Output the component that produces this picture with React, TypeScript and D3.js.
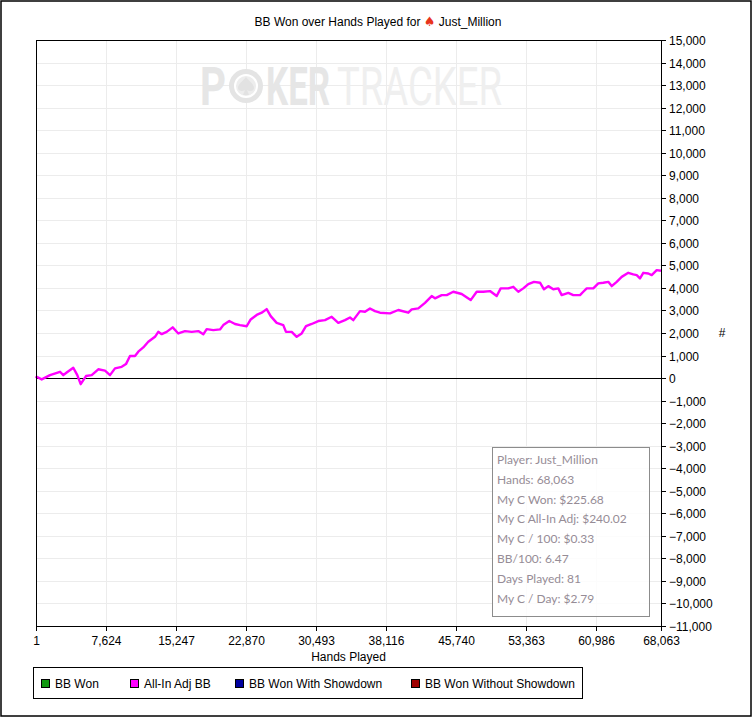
import React, { useEffect } from 'react';
import * as d3 from 'd3';

// hands played (x) and all-in adjusted BB won (y)
const handsPlayed = [1, 76, 620, 1525, 2614, 2973, 3343, 4062, 4498, 4868, 5445, 6066, 6784, 7514, 8059, 8603, 9333, 9801, 10237, 10781, 11140, 11685, 12229, 12959, 13318, 13689, 14233, 14887, 15496, 16226, 16956, 17674, 18219, 18589, 19308, 20038, 20397, 21050, 21671, 22216, 22945, 23381, 24034, 24579, 25123, 25559, 26212, 26931, 27225, 27846, 28390, 28935, 29403, 30024, 30742, 31472, 32202, 32920, 33650, 34195, 34554, 35284, 35828, 36373, 36917, 37462, 38551, 39454, 40543, 40914, 41632, 42362, 43092, 43451, 44181, 44725, 45444, 46359, 46969, 47339, 47993, 48712, 49441, 50171, 50606, 51434, 51978, 52523, 53067, 53612, 54232, 54886, 55321, 55790, 56334, 56879, 57249, 57968, 58512, 59242, 59601, 59971, 60690, 61234, 61779, 62323, 62694, 63238, 63783, 64501, 65046, 65416, 65776, 66135, 66680, 67050, 67594, 68063];
const allInAdjBB = [0, 60, -60, 130, 280, 130, 250, 460, 130, -270, 90, 130, 390, 330, 130, 430, 500, 620, 980, 980, 1170, 1360, 1610, 1830, 2050, 1950, 2050, 2250, 1980, 2085, 2050, 2085, 1940, 2170, 2130, 2160, 2350, 2530, 2400, 2350, 2300, 2600, 2800, 2900, 3060, 2750, 2450, 2350, 2050, 2050, 1830, 1980, 2300, 2400, 2530, 2570, 2720, 2450, 2570, 2690, 2570, 2970, 2940, 3090, 2970, 2900, 2870, 3020, 2900, 3050, 3090, 3340, 3640, 3540, 3680, 3680, 3830, 3730, 3560, 3460, 3830, 3830, 3860, 3640, 3980, 3980, 4050, 3830, 3980, 4170, 4270, 4230, 3940, 4080, 3940, 3980, 3680, 3780, 3680, 3680, 3830, 3980, 3980, 4200, 4230, 4270, 4080, 4270, 4490, 4670, 4600, 4570, 4420, 4670, 4640, 4570, 4790, 4760];

const xTicks = [1, 7624, 15247, 22870, 30493, 38116, 45740, 53363, 60986, 68063];
const yTicks = d3.range(-11000, 15001, 1000);

const legendItems = [
  { label: 'BB Won', color: '#109810' },
  { label: 'All-In Adj BB', color: '#ff00ff' },
  { label: 'BB Won With Showdown', color: '#0000a0' },
  { label: 'BB Won Without Showdown', color: '#a00000' },
];
const legendX = [41, 130, 235, 411];

const statLines = [
  'Player: Just_Million',
  'Hands: 68,063',
  'My C Won: $225.68',
  'My C All-In Adj: $240.02',
  'My C / 100: $0.33',
  'BB/100: 6.47',
  'Days Played: 81',
  'My C / Day: $2.79',
];

const font = '"Liberation Sans", Arial, sans-serif';

// watermark pieces: [text, left x, width, bold, fill, horizontal squeeze]
const watermark: [string, number, number, boolean, string, number][] = [
  ['P', 200, 26, true, '#e6e6e6', 0.79],
  ['KER', 266, 64, true, '#e6e6e6', 0.67],
  ['TRACKER', 337, 165, false, '#efefef', 0.72],
];

export default function App() {
  useEffect(() => {
    document.body.style.margin = '0';
  }, []);

  const left = 36, right = 661, top = 40, bottom = 626;
  const x = d3.scaleLinear().domain([1, 68063]).range([left, right]);
  const y = d3.scaleLinear().domain([-11000, 15000]).range([bottom, top]);

  const line = d3.line<number>()
    .x((_, i) => x(handsPlayed[i]))
    .y(d => y(d));

  return (
    <svg width={755} height={717} style={{ display: 'block', background: '#fff' }} fontFamily={font}>
      <rect x={1} y={1} width={750} height={715} fill="#fff" stroke="#000" strokeWidth={1.5} />

      <text x={378} y={26} textAnchor="middle" fontSize={12} fill="#000">
        BB Won over Hands Played for <tspan fill="#e8341c" fontFamily="DejaVu Sans" fontSize={13}>♠</tspan> Just_Million
      </text>

      {/* grid */}
      {yTicks.map(t => (
        <line key={'gy' + t} x1={left} x2={right} y1={Math.round(y(t)) + 0.5} y2={Math.round(y(t)) + 0.5} stroke="#ececec" />
      ))}
      {xTicks.map(t => (
        <line key={'gx' + t} x1={Math.round(x(t)) + 0.5} x2={Math.round(x(t)) + 0.5} y1={top} y2={bottom} stroke="#ececec" />
      ))}

      {/* watermark */}
      <g>
        <circle cx={246} cy={86} r={17} fill="#e4e4e4" />
        <circle cx={246} cy={86} r={11} fill="#ededed" stroke="#fff" strokeWidth={2} />
        <path d="M246,77 C249,81 254,84 254,88 C254,91 250,92 247,90 L249,95 L243,95 L245,90 C242,92 238,91 238,88 C238,84 243,81 246,77 Z" fill="#e2e2e2" />
        {watermark.map(([s, wx, w, bold, fill, sq]) => (
          <text key={s} transform={`translate(${wx},105) scale(${sq},1)`} fontFamily="Roboto" fontSize={53}
            fontWeight={bold ? 'bold' : 'normal'} fill={fill} textLength={w / sq} lengthAdjust="spacingAndGlyphs">{s}</text>
        ))}
      </g>

      {/* zero line */}
      <line x1={left} x2={right} y1={Math.round(y(0)) + 0.5} y2={Math.round(y(0)) + 0.5} stroke="#000" />

      {/* series */}
      <path d={line(allInAdjBB) || ''} fill="none" stroke="#ff00ff" strokeWidth={2.4} strokeLinejoin="round" />

      {/* frame */}
      <rect x={left + 0.5} y={top + 0.5} width={right - left} height={bottom - top} fill="none" stroke="#000" />

      {/* right y axis */}
      {yTicks.map(t => (
        <g key={'ty' + t} transform={`translate(${right},${Math.round(y(t)) + 0.5})`}>
          <line x1={0} x2={5} stroke="#000" />
          <text x={8} dy="0.35em" fontSize={12} fill="#000">{d3.format(',')(t)}</text>
        </g>
      ))}
      <text x={722} y={337} textAnchor="middle" fontSize={12} fill="#000">#</text>

      {/* bottom x axis */}
      {xTicks.map(t => (
        <g key={'tx' + t} transform={`translate(${Math.round(x(t)) + 0.5},${bottom})`}>
          <line y1={0} y2={5} stroke="#000" />
          <text y={19} textAnchor="middle" fontSize={12} fill="#000">{d3.format(',')(t)}</text>
        </g>
      ))}
      <text x={(left + right) / 2} y={661} textAnchor="middle" fontSize={12} fill="#000">Hands Played</text>

      {/* stats box */}
      <rect x={492.5} y={447.5} width={157} height={169} fill="#fff" fillOpacity={0.85} stroke="#8c8c8c" />
      {statLines.map((s, i) => (
        <text key={s} x={497} y={464 + i * 19.8} fontFamily="Lato, 'Open Sans', sans-serif" fontSize={12} fill="#968c96">{s}</text>
      ))}

      {/* legend */}
      <rect x={33.5} y={667.5} width={549} height={31} fill="#fff" stroke="#000" />
      {legendItems.map((item, i) => (
        <g key={item.label} transform={`translate(${legendX[i]},679)`}>
          <rect x={0.5} y={0.5} width={8} height={8} fill={item.color} stroke="#000" />
          <text x={14} y={8.5} fontSize={12} fill="#000">{item.label}</text>
        </g>
      ))}
    </svg>
  );
}
